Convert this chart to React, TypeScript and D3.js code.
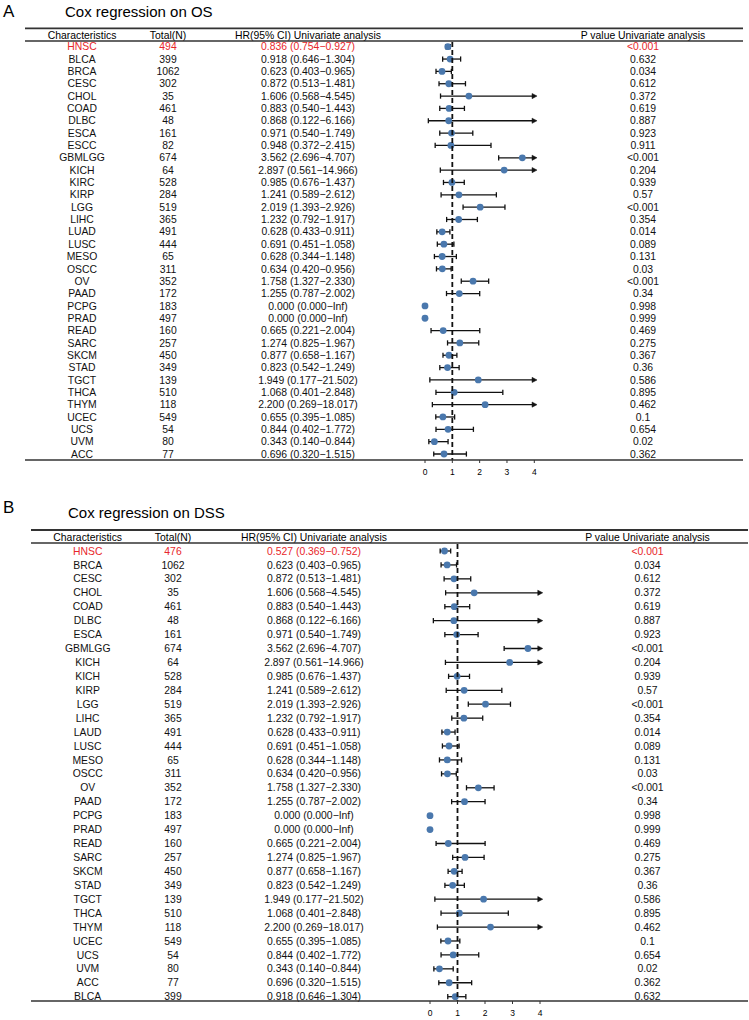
import React from 'react';
import * as d3 from 'd3';

// ---- OS (panel A) ----
const osNames = ['HNSC', 'BLCA', 'BRCA', 'CESC', 'CHOL', 'COAD', 'DLBC', 'ESCA', 'ESCC', 'GBMLGG', 'KICH', 'KIRC', 'KIRP', 'LGG', 'LIHC', 'LUAD', 'LUSC', 'MESO', 'OSCC', 'OV', 'PAAD', 'PCPG', 'PRAD', 'READ', 'SARC', 'SKCM', 'STAD', 'TGCT', 'THCA', 'THYM', 'UCEC', 'UCS', 'UVM', 'ACC'];
const osTotal = [494, 399, 1062, 302, 35, 461, 48, 161, 82, 674, 64, 528, 284, 519, 365, 491, 444, 65, 311, 352, 172, 183, 497, 160, 257, 450, 349, 139, 510, 118, 549, 54, 80, 77];
const osHR = [0.836, 0.918, 0.623, 0.872, 1.606, 0.883, 0.868, 0.971, 0.948, 3.562, 2.897, 0.985, 1.241, 2.019, 1.232, 0.628, 0.691, 0.628, 0.634, 1.758, 1.255, 0, 0, 0.665, 1.274, 0.877, 0.823, 1.949, 1.068, 2.2, 0.655, 0.844, 0.343, 0.696];
const osLower = [0.754, 0.646, 0.403, 0.513, 0.568, 0.54, 0.122, 0.54, 0.372, 2.696, 0.561, 0.676, 0.589, 1.393, 0.792, 0.433, 0.451, 0.344, 0.42, 1.327, 0.787, 0, 0, 0.221, 0.825, 0.658, 0.542, 0.177, 0.401, 0.269, 0.395, 0.402, 0.14, 0.32];
const osUpper = [0.927, 1.304, 0.965, 1.481, 4.545, 1.443, 6.166, 1.749, 2.415, 4.707, 14.966, 1.437, 2.612, 2.926, 1.917, 0.911, 1.058, 1.148, 0.956, 2.33, 2.002, Infinity, Infinity, 2.004, 1.967, 1.167, 1.249, 21.502, 2.848, 18.017, 1.085, 1.772, 0.844, 1.515];
const osP = ['<0.001', '0.632', '0.034', '0.612', '0.372', '0.619', '0.887', '0.923', '0.911', '<0.001', '0.204', '0.939', '0.57', '<0.001', '0.354', '0.014', '0.089', '0.131', '0.03', '<0.001', '0.34', '0.998', '0.999', '0.469', '0.275', '0.367', '0.36', '0.586', '0.895', '0.462', '0.1', '0.654', '0.02', '0.362'];

// ---- DSS (panel B) ----
const dssNames = ['HNSC', 'BRCA', 'CESC', 'CHOL', 'COAD', 'DLBC', 'ESCA', 'GBMLGG', 'KICH', 'KICH', 'KIRP', 'LGG', 'LIHC', 'LAUD', 'LUSC', 'MESO', 'OSCC', 'OV', 'PAAD', 'PCPG', 'PRAD', 'READ', 'SARC', 'SKCM', 'STAD', 'TGCT', 'THCA', 'THYM', 'UCEC', 'UCS', 'UVM', 'ACC', 'BLCA'];
const dssTotal = [476, 1062, 302, 35, 461, 48, 161, 674, 64, 528, 284, 519, 365, 491, 444, 65, 311, 352, 172, 183, 497, 160, 257, 450, 349, 139, 510, 118, 549, 54, 80, 77, 399];
const dssHR = [0.527, 0.623, 0.872, 1.606, 0.883, 0.868, 0.971, 3.562, 2.897, 0.985, 1.241, 2.019, 1.232, 0.628, 0.691, 0.628, 0.634, 1.758, 1.255, 0, 0, 0.665, 1.274, 0.877, 0.823, 1.949, 1.068, 2.2, 0.655, 0.844, 0.343, 0.696, 0.918];
const dssLower = [0.369, 0.403, 0.513, 0.568, 0.54, 0.122, 0.54, 2.696, 0.561, 0.676, 0.589, 1.393, 0.792, 0.433, 0.451, 0.344, 0.42, 1.327, 0.787, 0, 0, 0.221, 0.825, 0.658, 0.542, 0.177, 0.401, 0.269, 0.395, 0.402, 0.14, 0.32, 0.646];
const dssUpper = [0.752, 0.965, 1.481, 4.545, 1.443, 6.166, 1.749, 4.707, 14.966, 1.437, 2.612, 2.926, 1.917, 0.911, 1.058, 1.148, 0.956, 2.33, 2.002, Infinity, Infinity, 2.004, 1.967, 1.167, 1.249, 21.502, 2.848, 18.017, 1.085, 1.772, 0.844, 1.515, 1.304];
const dssP = ['<0.001', '0.034', '0.612', '0.372', '0.619', '0.887', '0.923', '<0.001', '0.204', '0.939', '0.57', '<0.001', '0.354', '0.014', '0.089', '0.131', '0.03', '<0.001', '0.34', '0.998', '0.999', '0.469', '0.275', '0.367', '0.36', '0.586', '0.895', '0.462', '0.1', '0.654', '0.02', '0.362', '0.632'];

const headers = ['Characteristics', 'Total(N)', 'HR(95% CI) Univariate analysis', 'P value Univariate analysis'];
const xTicks = [0, 1, 2, 3, 4];

const FONT = "'Liberation Sans', Arial, Helvetica, sans-serif";
const RED = '#e8262a';
const DOT = '#4a78ad';
const RULE = '#333';
const XMAX = 4.1;

const fmt = (v: number) => (isFinite(v) ? v.toFixed(3) : 'Inf');

type Layout = {
  label: string; title: string; labelY: number; titleX: number; titleY: number;
  ruleX0: number; ruleX1: number; topRule: number; headRule: number; headY: number;
  firstRow: number; lastRow: number; axisY: number; x0: number; x4: number; cols: number[];
};

type Data = { names: string[]; total: number[]; hr: number[]; lower: number[]; upper: number[]; p: string[] };

function Panel({ L, D }: { L: Layout; D: Data }) {
  const x = d3.scaleLinear().domain([0, 4]).range([L.x0, L.x4]);
  const y = d3.scalePoint<number>().domain(D.names.map((_, i) => i)).range([L.firstRow, L.lastRow]);
  const fs = 10.4;
  const cap = 2.6;

  return (
    <g fontFamily={FONT}>
      <text x={3} y={L.labelY} fontSize={17}>{L.label}</text>
      <text x={L.titleX} y={L.titleY} fontSize={15}>{L.title}</text>
      <line x1={L.ruleX0} x2={L.ruleX1} y1={L.topRule} y2={L.topRule} stroke={RULE} strokeWidth={1.8} />
      {headers.map((h, j) => (
        <text key={h} x={L.cols[j]} y={L.headY + fs * 0.35} fontSize={fs} textAnchor="middle">{h}</text>
      ))}
      <line x1={L.ruleX0} x2={L.ruleX1} y1={L.headRule} y2={L.headRule} stroke={RULE} strokeWidth={1.5} />

      {D.names.map((n, i) => {
        const cy = y(i)!;
        const fill = i === 0 ? RED : '#111';
        const ci = `${fmt(D.hr[i])} (${fmt(D.lower[i])}\u2212${fmt(D.upper[i])})`;
        const texts = [n, String(D.total[i]), ci, D.p[i]];
        return (
          <g key={i}>
            {texts.map((t, j) => (
              <text key={j} x={L.cols[j]} y={cy + fs * 0.35} fontSize={fs} textAnchor="middle" fill={fill}>{t}</text>
            ))}
          </g>
        );
      })}

      {/* confidence intervals */}
      {D.names.map((_, i) => {
        if (D.hr[i] === 0) return null;
        const cy = y(i)!;
        const lo = x(D.lower[i]);
        const clipped = D.upper[i] > XMAX;
        const hi = x(Math.min(D.upper[i], XMAX));
        return (
          <g key={'ci' + i} stroke="#111" strokeWidth={1.3}>
            <line x1={lo} x2={clipped ? hi - 3 : hi} y1={cy} y2={cy} />
            <line x1={lo} x2={lo} y1={cy - cap} y2={cy + cap} />
            {clipped ? (
              <path d={`M${hi},${cy} L${hi - 5},${cy - 2.6} L${hi - 5},${cy + 2.6} Z`} fill="#111" strokeWidth={0.5} />
            ) : (
              <line x1={hi} x2={hi} y1={cy - cap} y2={cy + cap} />
            )}
          </g>
        );
      })}

      {D.hr.map((v, i) => (
        <circle key={'pt' + i} cx={x(v)} cy={y(i)!} r={3.4} fill={DOT} />
      ))}

      <line x1={x(1)} x2={x(1)} y1={L.headRule + 1} y2={L.axisY} stroke="#111" strokeWidth={1.8} strokeDasharray="5,3" />

      <line x1={L.ruleX0} x2={L.ruleX1} y1={L.axisY} y2={L.axisY} stroke={RULE} strokeWidth={1.5} />
      {xTicks.map((t) => (
        <g key={t} transform={`translate(${x(t)},${L.axisY})`}>
          <line y1={0} y2={3} stroke={RULE} strokeWidth={1} />
          <text y={14.5} fontSize={8.5} textAnchor="middle">{t}</text>
        </g>
      ))}
    </g>
  );
}

const layoutA: Layout = {
  label: 'A', title: 'Cox regression on OS', labelY: 17, titleX: 65, titleY: 17,
  ruleX0: 25, ruleX1: 743, topRule: 28.3, headRule: 41, headY: 35,
  firstRow: 46.7, lastRow: 454, axisY: 460, x0: 425, x4: 534.3, cols: [82, 168, 308, 643],
};
const layoutB: Layout = {
  label: 'B', title: 'Cox regression on DSS', labelY: 513, titleX: 68, titleY: 518,
  ruleX0: 31, ruleX1: 748, topRule: 530, headRule: 543, headY: 537.7,
  firstRow: 551, lastRow: 996.7, axisY: 1001, x0: 430, x4: 540, cols: [87.7, 173, 314, 647.5],
};

export default function App() {
  const os: Data = { names: osNames, total: osTotal, hr: osHR, lower: osLower, upper: osUpper, p: osP };
  const dss: Data = { names: dssNames, total: dssTotal, hr: dssHR, lower: dssLower, upper: dssUpper, p: dssP };
  return (
    <svg width={749} height={1020} style={{ position: 'absolute', left: 0, top: 0, background: '#fff' }}>
      <Panel L={layoutA} D={os} />
      <Panel L={layoutB} D={dss} />
    </svg>
  );
}
